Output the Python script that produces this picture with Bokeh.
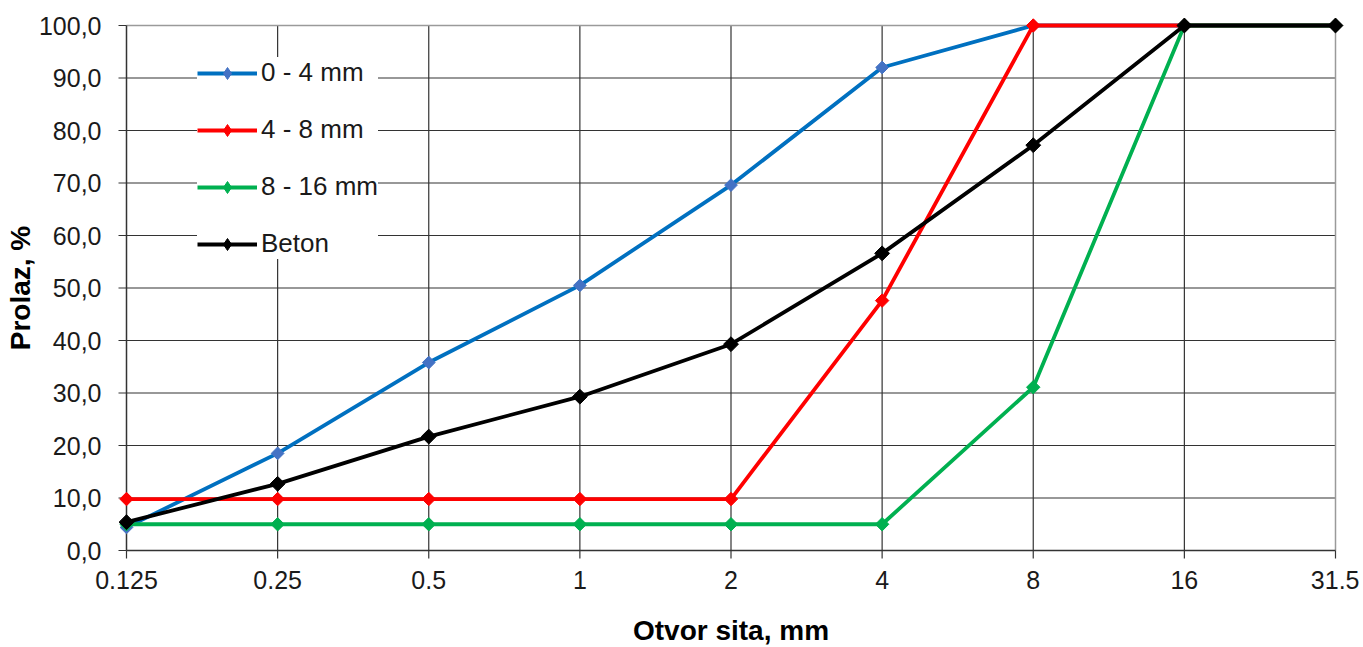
import numpy as np
from bokeh.plotting import figure
from bokeh.models import FixedTicker, Legend, LegendItem, Range1d
from bokeh.embed import file_html
from bokeh.resources import INLINE

# ---- data ----
sieve_labels = ["0.125", "0.25", "0.5", "1", "2", "4", "8", "16", "31.5"]
fine_0_4 = [4.4, 18.5, 35.8, 50.5, 69.6, 92.0, 100.0, 100.0, 100.0]
mid_4_8 = [9.8, 9.8, 9.8, 9.8, 9.8, 47.6, 100.0, 100.0, 100.0]
coarse_8_16 = [5.0, 5.0, 5.0, 5.0, 5.0, 5.0, 31.1, 100.0, 100.0]
beton = [5.4, 12.7, 21.7, 29.3, 39.3, 56.6, 77.2, 100.0, 100.0]
y_ticks = [0, 10, 20, 30, 40, 50, 60, 70, 80, 90, 100]

series = [
    ("0 - 4 mm", fine_0_4, "#0070C0", "#4472C4", 9),
    ("4 - 8 mm", mid_4_8, "#FF0000", "#FF0000", 9.5),
    ("8 - 16 mm", coarse_8_16, "#00B050", "#00B050", 9.5),
    ("Beton", beton, "#000000", "#000000", 10.5),
]

xs = list(range(len(sieve_labels)))
x_min, x_max = xs[0], xs[-1]
y_min, y_max = y_ticks[0], y_ticks[-1]
FONT = "Liberation Sans"
AXIS_C = "#333333"

# frame is padded by 10px on every side so that edge markers are not clipped
PAD = 10
TICK = 8
data_w, data_h = 1209, 525
ux = (x_max - x_min) / data_w   # data units per pixel
uy = (y_max - y_min) / data_h

p = figure(frame_width=data_w + 2 * PAD, frame_height=data_h + 2 * PAD,
           output_backend="svg", toolbar_location=None,
           x_range=Range1d(x_min - PAD * ux, x_max + PAD * ux),
           y_range=Range1d(y_min - PAD * uy, y_max + PAD * uy),
           min_border_left=126 - PAD, min_border_right=24 - PAD,
           min_border_top=25 - PAD, min_border_bottom=60)

p.background_fill_color = "white"
p.border_fill_color = "white"
p.outline_line_color = None
p.xgrid.visible = False
p.ygrid.visible = False

# Bokeh axes supply the tick labels and titles only
p.xaxis.ticker = FixedTicker(ticks=xs)
p.xaxis.major_label_overrides = {i: s for i, s in enumerate(sieve_labels)}
p.yaxis.ticker = FixedTicker(ticks=y_ticks)
p.yaxis.major_label_overrides = {t: f"{t:.1f}".replace(".", ",") for t in y_ticks}

for ax in (p.xaxis[0], p.yaxis[0]):
    ax.axis_line_color = None
    ax.major_tick_line_color = None
    ax.minor_tick_line_color = None
    ax.major_tick_in = 0
    ax.major_tick_out = 0
    ax.minor_tick_out = 0
    ax.major_label_text_font = FONT
    ax.major_label_text_font_size = "25px"
    ax.major_label_text_color = "#1a1a1a"
    ax.axis_label_text_font = FONT
    ax.axis_label_text_font_size = "28px"
    ax.axis_label_text_font_style = "bold"
    ax.axis_label_text_color = "#000000"

p.xaxis.axis_label = "Otvor sita, mm"
p.yaxis.axis_label = "Prolaz, %"
p.xaxis.major_label_standoff = TICK + 12 - PAD
p.xaxis.axis_label_standoff = 23
p.yaxis.major_label_standoff = TICK + 17 - PAD
p.yaxis.axis_label_standoff = 0

# grid lines (inner), grey top/right border, axis lines and tick marks
inner_x = xs[1:-1]
inner_y = y_ticks[1:-1]
p.segment(x0=inner_x, y0=[y_min] * len(inner_x), x1=inner_x, y1=[y_max] * len(inner_x),
          line_color=AXIS_C, line_width=1.2)
p.segment(x0=[x_min] * len(inner_y), y0=inner_y, x1=[x_max] * len(inner_y), y1=inner_y,
          line_color=AXIS_C, line_width=1.2)
p.segment(x0=[x_min, x_max], y0=[y_max, y_min], x1=[x_max, x_max], y1=[y_max, y_max],
          line_color="#9a9a9a", line_width=1.5)
p.segment(x0=[x_min, x_min], y0=[y_min, y_min], x1=[x_max, x_min], y1=[y_min, y_max],
          line_color=AXIS_C, line_width=1.5)
p.segment(x0=xs, y0=[y_min] * len(xs), x1=xs, y1=[y_min - TICK * uy] * len(xs),
          line_color=AXIS_C, line_width=1.2)
p.segment(x0=[x_min] * len(y_ticks), y0=y_ticks, x1=[x_min - TICK * ux] * len(y_ticks),
          y1=y_ticks, line_color=AXIS_C, line_width=1.2)

items = []
for name, vals, lc, mc, ms in series:
    r1 = p.line(xs, vals, line_color=lc, line_width=3.8)
    p.scatter(xs, vals, marker="square", angle=np.pi / 4, size=ms,
              fill_color=mc, line_color=mc)
    # legend-only diamond, placed outside the visible range
    r3 = p.scatter(x=[x_min - 10], y=[y_min - 100], marker="diamond", size=12,
                   fill_color=mc, line_color=mc)
    items.append(LegendItem(label=name, renderers=[r1, r3]))

legend = Legend(items=items, location=(71 + PAD, 291 + PAD))
legend.label_text_font = FONT
legend.label_text_font_size = "26px"
legend.label_text_color = "#1a1a1a"
legend.glyph_width = 60
legend.glyph_height = 30
legend.label_height = 30
legend.label_standoff = 4
legend.spacing = 26
legend.padding = 18
legend.margin = 0
legend.border_line_color = None
legend.background_fill_color = "white"
legend.background_fill_alpha = 1.0
p.add_layout(legend, "center")

open("out.html", "w").write(file_html(p, INLINE))
